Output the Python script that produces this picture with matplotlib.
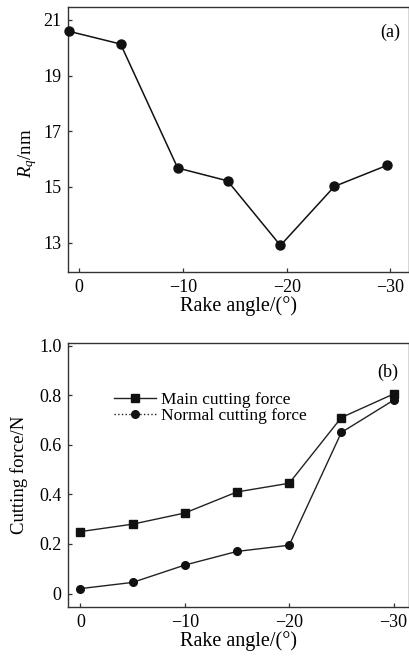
import matplotlib
matplotlib.use("Agg")
import matplotlib.pyplot as plt
from matplotlib.lines import Line2D

plt.rcParams['font.family'] = ['Liberation Serif', 'DejaVu Serif']
plt.rcParams['mathtext.fontset'] = 'custom'
plt.rcParams['mathtext.rm'] = 'Liberation Serif'
plt.rcParams['mathtext.it'] = 'Liberation Serif:italic'

# (a) surface roughness vs rake angle
rake_a = [1.0, -4.0, -9.5, -14.3, -19.4, -24.6, -29.7]
rq = [20.59, 20.13, 15.68, 15.22, 12.90, 15.02, 15.78]

# (b) cutting forces vs rake angle
rake_b = [0, -5, -10, -15, -20, -25, -30]
main_force = [0.25, 0.28, 0.325, 0.41, 0.445, 0.71, 0.805]
normal_force = [0.02, 0.045, 0.115, 0.17, 0.195, 0.65, 0.78]

fig = plt.figure(figsize=(4.1, 6.6), dpi=100)
ax1 = fig.add_axes([0.166, 0.588, 0.832, 0.401])
ax2 = fig.add_axes([0.167, 0.080, 0.831, 0.400])

spine_c = '#333333'
for ax in (ax1, ax2):
    for s in ax.spines.values():
        s.set_color(spine_c)
        s.set_linewidth(1.0)
    ax.tick_params(direction='in', length=3, width=0.9, color=spine_c,
                   labelsize=13, pad=5, top=False, right=False)

# panel (a)
ax1.plot(rake_a, rq, color='#111111', lw=1.1, marker='o', ms=6.5,
         markerfacecolor='#111111', markeredgecolor='#111111', clip_on=False, zorder=3)
ax1.set_xlim(1.06, -31.8)
ax1.set_ylim(11.95, 21.45)
ax1.set_xticks([0, -10, -20, -30])
ax1.set_yticks([13, 15, 17, 19, 21])
ax1.set_xlabel('Rake angle/(°)', fontsize=14.5, labelpad=0)
ax1.set_ylabel(r'$R_q$/nm', fontsize=13.5)
ax1.yaxis.set_label_coords(-0.085, 0.45)
ax1.text(0.944, 0.906, '(a)', transform=ax1.transAxes, fontsize=13,
         ha='center', va='center')

# panel (b)
ax2.plot(rake_b, main_force, color='#222222', lw=1.0, marker='s', ms=5.5,
         markerfacecolor='#111111', markeredgecolor='#111111', clip_on=False, zorder=3)
ax2.plot(rake_b, normal_force, color='#222222', lw=1.0, marker='o', ms=5.5,
         markerfacecolor='#111111', markeredgecolor='#111111', clip_on=False, zorder=3)
ax2.set_xlim(1.15, -31.5)
ax2.set_ylim(-0.055, 1.01)
ax2.set_xticks([0, -10, -20, -30])
ax2.set_yticks([0, 0.2, 0.4, 0.6, 0.8, 1.0])
ax2.set_yticklabels(['0', '0.2', '0.4', '0.6', '0.8', '1.0'])
ax2.set_xlabel('Rake angle/(°)', fontsize=14.5, labelpad=0)
ax2.set_ylabel('Cutting force/N', fontsize=13.5)
ax2.yaxis.set_label_coords(-0.118, 0.5)
ax2.text(0.937, 0.891, '(b)', transform=ax2.transAxes, fontsize=13,
         ha='center', va='center')

handles = [
    Line2D([], [], color='#222222', lw=1.0, marker='s', ms=5.5,
           markerfacecolor='#111111', markeredgecolor='#111111'),
    Line2D([], [], color='#222222', lw=1.0, ls=':', marker='o', ms=5.5,
           markerfacecolor='#111111', markeredgecolor='#111111'),
]
ax2.legend(handles, ['Main cutting force', 'Normal cutting force'],
           loc='upper left', bbox_to_anchor=(0.135, 0.815), frameon=False,
           fontsize=12.5, handlelength=2.4, handletextpad=0.3,
           labelspacing=0.0, borderpad=0, borderaxespad=0)

fig.savefig('out.png', dpi=100)
